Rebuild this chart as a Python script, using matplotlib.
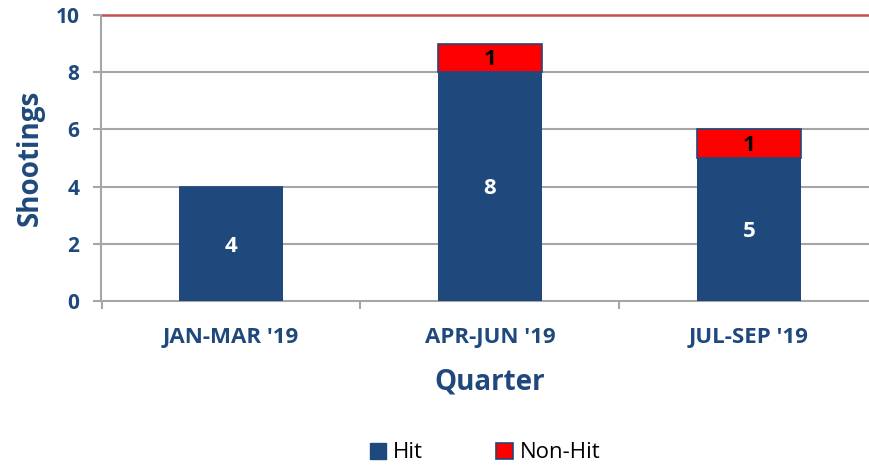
import matplotlib.pyplot as plt
import matplotlib.patches as mpatches
import numpy as np

quarters = ["JAN-MAR '19", "APR-JUN '19", "JUL-SEP '19"]
hit = [4, 8, 5]
non_hit = [0, 1, 1]
y_ticks = [0, 2, 4, 6, 8, 10]

navy = '#1F487C'
red = '#FF0000'
label_col = '#1F487C'
grid_col = '#A6A6A6'

plt.rcParams['font.family'] = ['Open Sans', 'DejaVu Sans']

fig = plt.figure(figsize=(8.7, 4.67), dpi=100)
ax = fig.add_axes([101.5 / 870, 1 - 301 / 467, 777 / 870, 286 / 467])

x = np.arange(len(quarters))
w = 0.405
ax.bar(x, hit, w, color=navy, zorder=3)
ax.bar(x, non_hit, w, bottom=hit, color=red, edgecolor=navy, linewidth=1.2, zorder=3)

# value labels (white on the hit part, black on the non-hit part)
for i in range(len(quarters)):
    if hit[i] > 0:
        ax.text(x[i], hit[i] / 2 - 0.08, str(hit[i]), ha='center', va='center',
                color='white', fontsize=16, fontweight='bold', zorder=4)
    if non_hit[i] > 0:
        ax.text(x[i], hit[i] + non_hit[i] / 2 - 0.05, str(non_hit[i]), ha='center', va='center',
                color='black', fontsize=16, fontweight='bold', zorder=4)

ax.set_xlim(-0.5, len(quarters) - 0.5)
ax.set_ylim(0, 10)
ax.set_yticks(y_ticks)
ax.set_yticklabels([str(v) for v in y_ticks], fontsize=15, fontweight='bold', color=label_col)

ax.set_xticks(x)
ax.set_xticklabels(quarters, fontsize=16, fontweight='bold', color=label_col)
ax.set_xticks(np.arange(len(quarters) + 1) - 0.5, minor=True)
ax.tick_params(axis='x', which='major', length=0, pad=19)
ax.tick_params(axis='x', which='minor', length=6, color=grid_col, width=1.5)
ax.tick_params(axis='y', length=6, color=grid_col, width=1.5, pad=10)

# gridlines
for v in y_ticks[1:-1]:
    ax.axhline(v, color=grid_col, linewidth=1.5, zorder=1)
ax.axhline(10, color='#C0504D', linewidth=1.8, zorder=1, clip_on=False)

for s in ['top', 'right']:
    ax.spines[s].set_visible(False)
for s in ['left', 'bottom']:
    ax.spines[s].set_color(grid_col)
    ax.spines[s].set_linewidth(1.5)

ax.set_ylabel('Shootings', fontsize=20, fontweight='bold', color=label_col, labelpad=8)
ax.set_xlabel('Quarter', fontsize=20, fontweight='bold', color=label_col, labelpad=14)

handles = [mpatches.Patch(facecolor=navy, edgecolor=navy, label='Hit'),
           mpatches.Patch(facecolor=red, edgecolor=navy, linewidth=1.2, label='Non-Hit')]
fig.legend(handles=handles, loc='center', bbox_to_anchor=(485 / 870, 1 - 453 / 467),
           ncol=2, frameon=False, fontsize=16, handlelength=0.75, handleheight=0.75,
           handletextpad=0.3, columnspacing=3.3, borderpad=0)

fig.savefig('out.png', dpi=100)
